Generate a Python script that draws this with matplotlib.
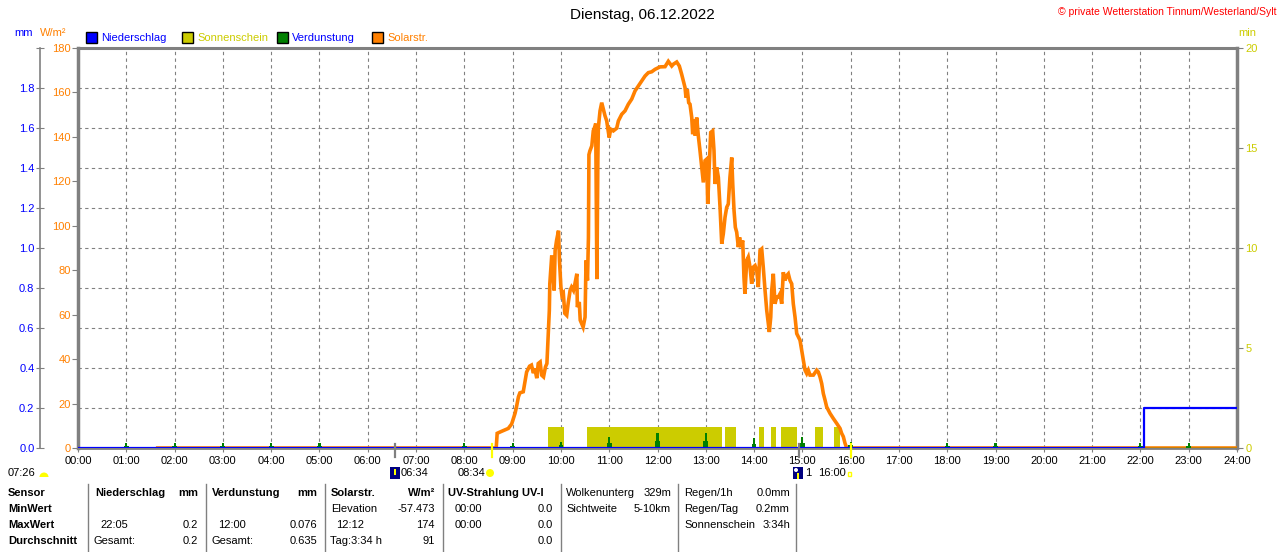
import numpy as np
import matplotlib
matplotlib.use('Agg')
import matplotlib.pyplot as plt
from matplotlib.patches import Rectangle, Circle, Wedge
from matplotlib.lines import Line2D
from matplotlib.transforms import IdentityTransform

plt.rcParams['font.family'] = ['Liberation Sans', 'DejaVu Sans']

#%%
# Daten
hours = list(range(25))
hour_labels = ['{:02d}:00'.format(h) for h in hours]

rain_h = [0.0, 22.08, 24.0]
rain_mm = [0.0, 0.2, 0.2]

evap_h = [1, 2, 3, 4, 5, 8, 9, 10, 11, 12, 13, 14, 15, 16, 18, 19, 22, 23]
evap_mm = [0.025, 0.025, 0.025, 0.025, 0.025, 0.025, 0.025, 0.03, 0.055, 0.076,
           0.075, 0.05, 0.053, 0.028, 0.025, 0.025, 0.027, 0.027]

sun_start = [9.727, 10.547, 13.398, 14.102, 14.351, 14.558, 15.262, 15.655]
sun_end = [10.064, 13.33, 13.626, 14.206, 14.455, 14.89, 15.428, 15.78]
sun_min = [1.03, 1.03, 1.03, 1.03, 1.03, 1.03, 1.03, 1.03]

sol_h = [1.65, 8.66, 8.68, 8.75, 8.91, 8.98, 9.01, 9.05, 9.08, 9.12, 9.15, 9.22, 9.26,
         9.29, 9.35, 9.39, 9.43, 9.46, 9.50, 9.53, 9.57, 9.60, 9.64, 9.68, 9.71, 9.74,
         9.76, 9.77, 9.81, 9.83, 9.86, 9.88, 9.91, 9.95, 9.97, 10.00, 10.02, 10.05,
         10.08, 10.12, 10.15, 10.19, 10.22, 10.26, 10.29, 10.33, 10.34, 10.38, 10.40,
         10.46, 10.50, 10.52, 10.55, 10.57, 10.58, 10.60, 10.64, 10.67, 10.71, 10.72,
         10.745, 10.765, 10.775, 10.81, 10.845, 10.878, 10.913, 10.948, 10.98, 11.00,
         11.03, 11.085, 11.155, 11.19, 11.26, 11.327, 11.396, 11.466, 11.535, 11.603,
         11.673, 11.742, 11.81, 11.88, 11.949, 12.052, 12.156, 12.224, 12.295, 12.328,
         12.398, 12.452, 12.50, 12.535, 12.57, 12.59, 12.617, 12.646, 12.673, 12.709,
         12.729, 12.756, 12.783, 12.812, 12.845, 12.88, 12.916, 12.949, 12.984, 13.019,
         13.04, 13.067, 13.102, 13.143, 13.17, 13.191, 13.226, 13.26, 13.295, 13.33,
         13.363, 13.398, 13.433, 13.466, 13.50, 13.537, 13.558, 13.585, 13.612, 13.64,
         13.674, 13.70, 13.723, 13.765, 13.79, 13.81, 13.848, 13.88, 13.916, 13.95,
         13.984, 14.02, 14.055, 14.088, 14.123, 14.158, 14.19, 14.227, 14.262, 14.295,
         14.316, 14.345, 14.365, 14.398, 14.433, 14.469, 14.50, 14.537, 14.572, 14.605,
         14.64, 14.676, 14.709, 14.744, 14.779, 14.812, 14.848, 14.883, 14.916, 14.951,
         14.986, 15.02, 15.055, 15.09, 15.123, 15.158, 15.227, 15.297, 15.33, 15.365,
         15.40, 15.434, 15.47, 15.503, 15.572, 15.64, 15.71, 15.78, 15.813, 15.848,
         15.883, 15.918, 24.0]
sol_w = [0, 0, 6.6, 7.3, 8.8, 10.8, 12.9, 15.6, 18.5, 23.0, 24.8, 25.3, 30.5,
         34.2, 36.8, 37.3, 33.7, 35.8, 31.4, 38.0, 38.7, 32.8, 32.0, 36.5, 38.0, 53.0,
         61.9, 73.9, 86.6, 79.9, 70.9, 88.9, 93.4, 97.8, 84.4, 72.4, 68.7, 69.6,
         60.6, 59.7, 65.1, 70.9, 72.4, 70.9, 73.9, 78.4, 63.4, 65.7, 57.5,
         54.4, 58.9, 84.4, 75.4, 94.8, 132, 133.7, 136, 142.7, 145, 146,
         76, 130, 144.2, 151.7, 155.4, 152.5, 149.5, 147.2, 142.7, 139.7,
         143.5, 142.7, 143.9, 147.2, 150.2, 151.7, 154.7, 157, 160.7, 162.9,
         165.2, 167.4, 168.9, 169.3, 170.4, 171.5, 171.6, 174, 171.9, 172.7,
         173.7, 171.9, 168.2, 165.2, 162.2, 157.7, 161.4, 155.4, 154.7, 148.7,
         141.2, 148, 140.5, 148.7, 140.5, 133.8, 126.3, 119.5, 129.3, 130,
         109.8, 124.8, 142, 142.7, 133.8, 118.8, 126.3, 121.8, 108.3, 91.9,
         96.4, 103.8, 108.3, 109.8, 121.8, 130.7, 118.8, 106.8, 99.3, 97.1,
         90.4, 94.8, 90.4, 93.4, 76.9, 69.4, 84.4, 85.9, 81.4, 73.9,
         81.4, 82.1, 79.9, 72.4, 88.9, 89.6, 81.4, 70.9, 61.9, 56.0,
         52.2, 58.9, 70.9, 78.4, 64.9, 67.9, 67.9, 69.4, 64.9, 79.1,
         75.4, 77.6, 78.4, 75.4, 73.9, 64.9, 58.9, 51.5, 50.0, 48.5,
         44.0, 39.5, 35.0, 33.5, 35.0, 32.8, 32.8, 35.0, 34.2, 32.0,
         29.0, 24.5, 21.5, 18.5, 15.6, 13.3, 11.1, 8.8, 6.6, 5.1,
         2.1, 0, 0]

# Auf-/Untergangsmarken
grey_marks = [6.567, 14.93]
yellow_marks = [8.567, 16.0]

#%%
W, H = 1280, 552
GRAU = '#808080'
BLAU = '#0000ff'
ORANGE = '#ff8000'
GELB = '#cccc00'
GRUEN = '#008000'
PX = IdentityTransform()


def fx(x):
    return x / W


def fy(y):
    return 1 - y / H


fig = plt.figure(figsize=(W / 100, H / 100), dpi=100)
rect = [fx(78), fy(448), (1237 - 78) / W, 400 / H]

# Gitter + mm-Achse
ax_grid = fig.add_axes(rect)
ax_grid.set_xlim(0, 24)
ax_grid.set_ylim(0, 2.0)
mm_ticks = np.round(np.arange(0, 2.01, 0.2), 1)
ax_grid.set_yticks(mm_ticks)
ax_grid.set_yticklabels(['{:.1f}'.format(v) for v in mm_ticks[:-1]] + [''])
ax_grid.set_xticks(hours)
ax_grid.set_xticklabels(hour_labels)
ax_grid.grid(True, color=GRAU, linestyle=(0, (3, 3)), linewidth=0.8)
ax_grid.spines['left'].set_position(('outward', 27.4))
ax_grid.spines['left'].set_color(GRAU)
ax_grid.spines['left'].set_linewidth(1.2)
ax_grid.spines['right'].set_visible(False)
ax_grid.spines['top'].set_color(GRAU)
ax_grid.spines['top'].set_linewidth(2.2)
ax_grid.spines['bottom'].set_color(GRAU)
ax_grid.spines['bottom'].set_linewidth(2)
ax_grid.tick_params(axis='y', direction='inout', length=6, color=GRAU,
                    labelcolor=BLAU, labelsize=8, pad=1)
ax_grid.tick_params(axis='x', length=3, color=GRAU, labelsize=8, pad=3)

# Sonnenschein (min)
ax_sun = ax_grid.twinx()
ax_sun.set_ylim(0, 20)
ax_sun.set_yticks([0, 5, 10, 15, 20])
ax_sun.tick_params(axis='y', length=4, color=GRAU, labelcolor=GELB, labelsize=8, pad=2)
for s in ['left', 'top', 'bottom']:
    ax_sun.spines[s].set_visible(False)
ax_sun.spines['right'].set_color(GRAU)
ax_sun.spines['right'].set_linewidth(2.5)
ax_sun.bar(sun_start, sun_min, width=np.array(sun_end) - np.array(sun_start),
           align='edge', color=GELB, linewidth=0)

# Solarstrahlung (W/m2)
ax_sol = ax_grid.twinx()
ax_sol.set_ylim(0, 180)
ax_sol.set_yticks(range(0, 181, 20))
ax_sol.yaxis.set_ticks_position('left')
ax_sol.yaxis.set_label_position('left')
for s in ['right', 'top', 'bottom']:
    ax_sol.spines[s].set_visible(False)
ax_sol.spines['left'].set_color(GRAU)
ax_sol.spines['left'].set_linewidth(2.5)
ax_sol.tick_params(axis='y', length=4, color=GRAU, labelcolor=ORANGE, labelsize=8, pad=1)
ax_sol.plot(sol_h, sol_w, color=ORANGE, linewidth=2.6, solid_joinstyle='miter')

# Verdunstung + Niederschlag (mm)
ax_top = ax_grid.twinx()
ax_top.set_ylim(0, 2.0)
ax_top.tick_params(axis='y', right=False, labelright=False)
for s in ax_top.spines.values():
    s.set_visible(False)
ax_top.plot([0, 24], [0, 0], color=GRUEN, linewidth=1)
for h, v in zip(evap_h, evap_mm):
    xs = [h - 0.05, h - 0.05, h - 0.022, h - 0.022, h + 0.022, h + 0.022, h + 0.05, h + 0.05]
    ys = [0, 0.45 * v, 0.45 * v, v, v, 0.45 * v, 0.45 * v, 0]
    ax_top.fill(xs, ys, color=GRUEN, linewidth=0)
ax_top.plot(rain_h, rain_mm, color=BLAU, linewidth=1.6, drawstyle='steps-post')
for h in grey_marks:
    ax_top.plot([h, h], [-0.045, 0.02], color=GRAU, linewidth=1.6, clip_on=False)
for h in yellow_marks:
    ax_top.plot([h, h], [-0.045, 0.02], color='#ffff00', linewidth=1.6, clip_on=False)

#%%
# Texte oben
fig.text(fx(642), fy(15), 'Dienstag, 06.12.2022', ha='center', va='center', fontsize=11)
fig.text(fx(1277), fy(12), '\u00a9 private Wetterstation Tinnum/Westerland/Sylt',
         ha='right', va='center', color='#ff0000', fontsize=7.5)
fig.text(fx(14), fy(33), 'mm', color=BLAU, fontsize=8, va='center')
fig.text(fx(40), fy(33), 'W/m\u00b2', color=ORANGE, fontsize=8, va='center')
fig.text(fx(1238), fy(33), 'min', color=GELB, fontsize=8, va='center')

legende = [(86, BLAU, 'Niederschlag', BLAU), (182, GELB, 'Sonnenschein', GELB),
           (277, GRUEN, 'Verdunstung', BLAU), (372, ORANGE, 'Solarstr.', ORANGE)]
for x0, c, txt, tc in legende:
    fig.patches.append(Rectangle((x0, H - 43), 11, 11, transform=PX,
                                 facecolor=c, edgecolor='black', linewidth=1))
    fig.text(fx(x0 + 15), fy(38), txt, color=tc, fontsize=8, va='center')

# Auf-/Untergang unter der Achse
fig.text(fx(8), fy(473), '07:26', fontsize=8, va='center')
fig.patches.append(Wedge((44, H - 477), 4.5, 0, 180, transform=PX,
                         facecolor='#ffff00', edgecolor='none'))
fig.patches.append(Rectangle((390, H - 479), 10, 12, transform=PX,
                             facecolor='#000080', edgecolor='none'))
fig.patches.append(Rectangle((394, H - 475), 2, 6, transform=PX,
                             facecolor='#ffff00', edgecolor='none'))
fig.text(fx(401), fy(473), '06:34', fontsize=8, va='center')
fig.text(fx(458), fy(473), '08:34', fontsize=8, va='center')
fig.patches.append(Circle((490, H - 473), 4, transform=PX,
                          facecolor='#ffff00', edgecolor='none'))
fig.patches.append(Rectangle((793, H - 479), 10, 12, transform=PX,
                             facecolor='#000080', edgecolor='none'))
fig.patches.append(Rectangle((797, H - 479), 2, 6, transform=PX,
                             facecolor='#ffff00', edgecolor='none'))
fig.patches.append(Circle((796, H - 470), 2, transform=PX,
                          facecolor='white', edgecolor='none'))
fig.text(fx(805), fy(473), '1', fontsize=8, va='center')
fig.text(fx(818), fy(473), '16:00', fontsize=8, va='center')
fig.patches.append(Rectangle((848, H - 476), 3, 4, transform=PX,
                             facecolor='none', edgecolor='#ffff00', linewidth=1))

#%%
# Tabelle
for x0 in [88, 206, 325, 443, 561, 678, 796]:
    fig.add_artist(Line2D([fx(x0), fx(x0)], [fy(484), fy(552)], color=GRAU, linewidth=1))

rows = [493, 509, 525, 541]
for y, txt in zip(rows, ['Sensor', 'MinWert', 'MaxWert', 'Durchschnitt']):
    fig.text(fx(8), fy(y), txt, fontsize=8, weight='bold', va='center')

links = [(95, 493, 'Niederschlag', True), (100, 525, '22:05', False), (94, 541, 'Gesamt:', False),
         (212, 493, 'Verdunstung', True), (218, 525, '12:00', False), (212, 541, 'Gesamt:', False),
         (331, 493, 'Solarstr.', True), (331, 509, 'Elevation', False), (336, 525, '12:12', False),
         (330, 541, 'Tag:3:34 h', False),
         (448, 493, 'UV-Strahlung UV-I', True), (455, 509, '00:00', False), (455, 525, '00:00', False),
         (566, 493, 'Wolkenunterg', False), (566, 509, 'Sichtweite', False),
         (684, 493, 'Regen/1h', False), (684, 509, 'Regen/Tag', False), (684, 525, 'Sonnenschein', False)]
for x0, y, txt, fett in links:
    fig.text(fx(x0), fy(y), txt, fontsize=8, weight='bold' if fett else 'normal', va='center')

rechts = [(198, 493, 'mm', True), (198, 525, '0.2', False), (198, 541, '0.2', False),
          (317, 493, 'mm', True), (317, 525, '0.076', False), (317, 541, '0.635', False),
          (435, 493, 'W/m\u00b2', True), (435, 509, '-57.473', False), (435, 525, '174', False),
          (435, 541, '91', False),
          (553, 509, '0.0', False), (553, 525, '0.0', False), (553, 541, '0.0', False),
          (671, 493, '329m', False), (671, 509, '5-10km', False),
          (790, 493, '0.0mm', False), (790, 509, '0.2mm', False), (790, 525, '3:34h', False)]
for x0, y, txt, fett in rechts:
    fig.text(fx(x0), fy(y), txt, fontsize=8, weight='bold' if fett else 'normal',
             ha='right', va='center')

fig.savefig('out.png', dpi=100)
